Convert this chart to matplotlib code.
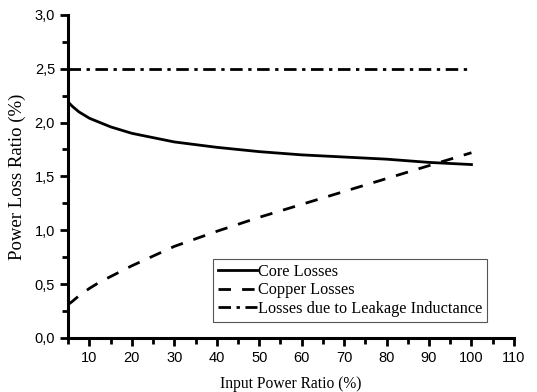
import numpy as np
import matplotlib.pyplot as plt
from matplotlib.ticker import MultipleLocator, FuncFormatter

# input power ratio (%)
x = [5, 6, 7.5, 10, 12.5, 15, 20, 25, 30, 40, 50, 60, 70, 80, 90, 100]
# loss ratios (%)
core = [2.19, 2.15, 2.10, 2.04, 2.00, 1.96, 1.90, 1.86, 1.82, 1.77, 1.73, 1.70, 1.68, 1.66, 1.63, 1.61]
copper = [0.31, 0.34, 0.39, 0.46, 0.52, 0.57, 0.67, 0.76, 0.85, 0.99, 1.12, 1.24, 1.36, 1.48, 1.60, 1.72]
leakage = [2.5] * len(x)

plt.rcParams['font.family'] = 'Liberation Sans'

fig = plt.figure(figsize=(5.37, 3.92), dpi=100)
ax = fig.add_axes([0.127, 0.138, 0.83, 0.824])

ax.plot(x, core, color='black', lw=2, solid_joinstyle='round', label='Core Losses')
ax.plot(x, copper, color='black', lw=2, dashes=(4.5, 4), label='Copper Losses')
ax.plot(x, leakage, color='black', lw=2, dashes=(4.5, 2, 1.2, 2),
        label='Losses due to Leakage Inductance')

ax.set_xlim(5, 110)
ax.set_ylim(0, 3.0)
ax.xaxis.set_minor_locator(MultipleLocator(5))
ax.yaxis.set_major_locator(MultipleLocator(0.5))
ax.yaxis.set_minor_locator(MultipleLocator(0.25))
ax.set_xticks(np.arange(10, 111, 10))
ax.yaxis.set_major_formatter(FuncFormatter(lambda v, p: f'{v:.1f}'.replace('.', ',')))

for s in ['top', 'right']:
    ax.spines[s].set_visible(False)
for s in ['left', 'bottom']:
    ax.spines[s].set_linewidth(2.2)
ax.tick_params(which='major', direction='out', length=6, width=2, labelsize=10.5)
ax.tick_params(which='minor', direction='out', length=4, width=2)

ax.set_xlabel('Input Power Ratio (%)', family='Liberation Serif', fontsize=11.2, labelpad=8)
ax.set_ylabel('Power Loss Ratio (%)', family='Liberation Serif', fontsize=13.5, labelpad=6)

leg = ax.legend(loc='lower right', bbox_to_anchor=(0.94, 0.05), fancybox=False,
                framealpha=1, edgecolor='#555555', handlelength=2.4, handletextpad=0.05,
                borderpad=0.3, labelspacing=0.15, borderaxespad=0,
                prop={'family': 'Liberation Serif', 'size': 11.7})
leg.get_frame().set_linewidth(0.8)

fig.savefig('out.png', dpi=100)
